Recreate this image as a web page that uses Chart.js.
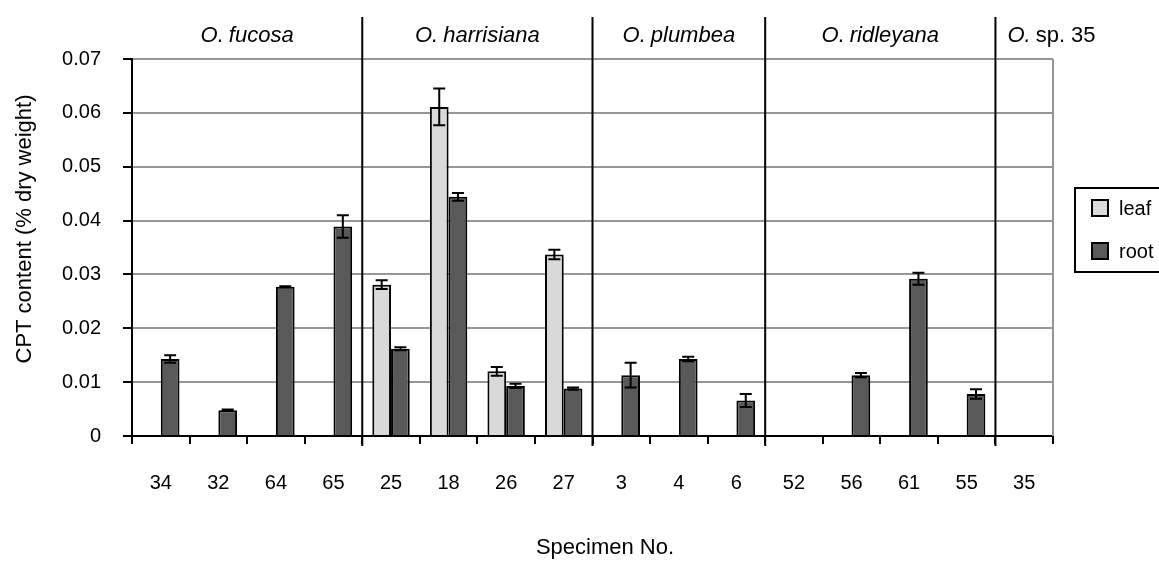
<!DOCTYPE html>
<html>
<head>
<meta charset="utf-8">
<script src="https://cdn.jsdelivr.net/npm/chart.js@4.4.1/dist/chart.umd.min.js"></script>
<style>
html, body { margin: 0; padding: 0; background: #fff; }
</style>
</head>
<body>
<canvas id="canvas-barchart" width="1159" height="561"></canvas>
<script>
const specimens = ['34', '32', '64', '65', '25', '18', '26', '27', '3', '4', '6', '52', '56', '61', '55', '35'];
const speciesNames = ['fucosa', 'harrisiana', 'plumbea', 'ridleyana', 'sp. 35'];
const speciesItalic = [true, true, true, true, false];
const speciesCounts = [4, 4, 3, 4, 1];

const leafValues = [null, null, null, null, 0.0281, 0.0611, 0.0120, 0.0337, null, null, null, null, null, null, null, null];
const leafErrors = [0, 0, 0, 0, 0.0008, 0.0034, 0.0008, 0.0009, 0, 0, 0, 0, 0, 0, 0, 0];
const rootValues = [0.0143, 0.0048, 0.0277, 0.0389, 0.0162, 0.0444, 0.0093, 0.0088, 0.0113, 0.0143, 0.0066, null, 0.0113, 0.0292, 0.0078, null];
const rootErrors = [0.0007, 0.0001, 0.0001, 0.0021, 0.0003, 0.0007, 0.0004, 0.0002, 0.0023, 0.0004, 0.0012, 0, 0.0004, 0.0011, 0.0009, 0];

const yMax = 0.07;
const yStep = 0.01;

const FONT = "'Liberation Sans', Arial, sans-serif";
const GRID_GREY = '#969696';

Chart.defaults.font.family = FONT;
Chart.defaults.color = '#000';

const canvas = document.getElementById('canvas-barchart');
var ctx = canvas.getContext('2d');

// error bars, group separators, species names, titles and legend
const extrasPlugin = {
    id: 'extras',
    afterDatasetsDraw(chart) {
        const c = chart.ctx;
        const x = chart.scales.x;
        const y = chart.scales.y;
        const area = chart.chartArea;
        const errors = [leafErrors, rootErrors];

        c.save();
        // right border of plot area
        c.strokeStyle = GRID_GREY;
        c.lineWidth = 2;
        c.beginPath();
        c.moveTo(area.right, area.top);
        c.lineTo(area.right, area.bottom);
        c.stroke();

        // error bars
        c.strokeStyle = '#000';
        c.lineWidth = 2;
        chart.data.datasets.forEach((ds, d) => {
            const meta = chart.getDatasetMeta(d);
            meta.data.forEach((bar, i) => {
                const v = ds.data[i];
                const e = errors[d][i];
                if (v === null || !e) return;
                const top = y.getPixelForValue(v + e);
                const bot = y.getPixelForValue(v - e);
                c.beginPath();
                c.moveTo(bar.x, top);
                c.lineTo(bar.x, bot);
                c.moveTo(bar.x - 6, top);
                c.lineTo(bar.x + 6, top);
                c.moveTo(bar.x - 6, bot);
                c.lineTo(bar.x + 6, bot);
                c.stroke();
            });
        });

        // separators between species and their names
        let start = 0;
        c.textBaseline = 'middle';
        speciesNames.forEach((name, g) => {
            const end = start + speciesCounts[g];
            const leftX = start === 0 ? area.left : (x.getPixelForValue(start - 1) + x.getPixelForValue(start)) / 2;
            const rightX = end >= specimens.length ? area.right : (x.getPixelForValue(end - 1) + x.getPixelForValue(end)) / 2;
            if (end < specimens.length) {
                c.strokeStyle = '#000';
                c.lineWidth = 2;
                c.beginPath();
                c.moveTo(rightX, 17);
                c.lineTo(rightX, area.bottom + 10);
                c.stroke();
            }
            const italicFont = 'italic 22px ' + FONT;
            const nameFont = (speciesItalic[g] ? 'italic ' : '') + '22px ' + FONT;
            c.font = italicFont;
            const w1 = c.measureText('O.').width + 5;
            c.font = nameFont;
            const w2 = c.measureText(name).width;
            let tx = (leftX + rightX) / 2 - (w1 + w2) / 2;
            if (tx < leftX + 12) tx = leftX + 12;
            c.textAlign = 'left';
            c.fillStyle = '#000';
            c.font = italicFont;
            c.fillText('O.', tx, 36);
            c.font = nameFont;
            c.fillText(name, tx + w1, 36);
            start = end;
        });

        // axis titles
        c.font = '22px ' + FONT;
        c.textAlign = 'center';
        c.fillText('Specimen No.', 605, 548);
        c.save();
        c.translate(25, 229);
        c.rotate(-Math.PI / 2);
        c.fillText('CPT content (% dry weight)', 0, 0);
        c.restore();

        // legend
        c.lineWidth = 2;
        c.strokeStyle = '#000';
        c.strokeRect(1075, 188, 120, 84);
        c.font = '20px ' + FONT;
        c.textAlign = 'left';
        chart.data.datasets.forEach((ds, d) => {
            const cy = 208 + d * 43;
            c.fillStyle = ds.backgroundColor;
            c.fillRect(1092, cy - 8, 16, 16);
            c.strokeRect(1092, cy - 8, 16, 16);
            c.fillStyle = '#000';
            c.fillText(ds.label, 1119, cy + 1);
        });
        c.restore();
    }
};

new Chart(ctx, {
    type: 'bar',
    data: {
        labels: specimens,
        datasets: [
            {
                label: 'leaf',
                data: leafValues,
                backgroundColor: '#d9d9d9',
                borderColor: '#000',
                borderWidth: 2,
                categoryPercentage: 0.65,
                barPercentage: 1.0
            },
            {
                label: 'root',
                data: rootValues,
                backgroundColor: '#595959',
                borderColor: '#000',
                borderWidth: 2,
                categoryPercentage: 0.65,
                barPercentage: 1.0
            }
        ]
    },
    options: {
        responsive: false,
        animation: false,
        events: [],
        layout: {
            padding: { top: 59, right: 106, left: 0, bottom: 0 }
        },
        plugins: {
            legend: { display: false },
            tooltip: { enabled: false }
        },
        scales: {
            x: {
                grid: {
                    offset: true,
                    drawOnChartArea: false,
                    drawTicks: true,
                    tickLength: 8,
                    tickColor: '#000',
                    lineWidth: 2
                },
                border: { color: '#000', width: 2 },
                ticks: {
                    font: { size: 20 },
                    padding: 27,
                    maxRotation: 0,
                    autoSkip: false
                },
                afterFit(scale) { scale.height = 125; }
            },
            y: {
                min: 0,
                max: yMax,
                grid: {
                    color: (context) => context.tick && context.tick.value === 0 ? '#000' : GRID_GREY,
                    lineWidth: 2,
                    tickLength: 9,
                    tickColor: '#000'
                },
                border: { color: '#000', width: 2 },
                ticks: {
                    stepSize: yStep,
                    font: { size: 20 },
                    padding: 22,
                    callback: (v) => v === 0 ? '0' : v.toFixed(2)
                },
                afterFit(scale) { scale.width = 132; }
            }
        }
    },
    plugins: [extrasPlugin]
});
</script>
</body>
</html>
